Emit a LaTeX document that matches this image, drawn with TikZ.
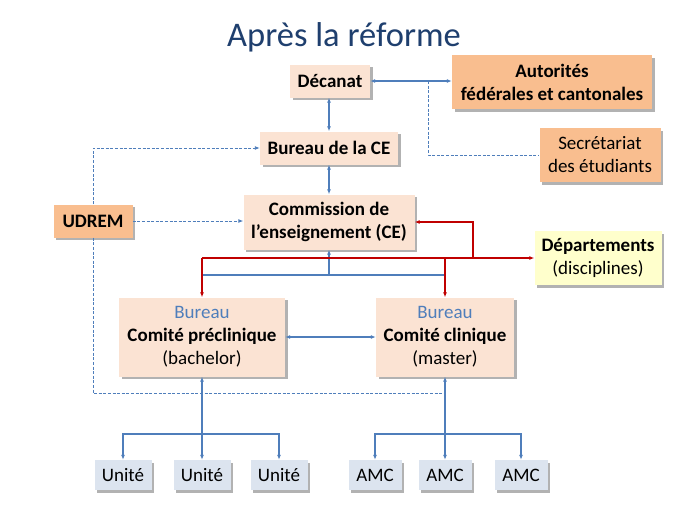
\documentclass[tikz,border=0pt]{standalone}
\usepackage{fontspec}
\setmainfont{Carlito}
\usetikzlibrary{arrows.meta,shadows}
\definecolor{peach}{HTML}{FBE3D3}
\definecolor{orangebox}{HTML}{F9BE8F}
\definecolor{yel}{HTML}{FFFFCC}
\definecolor{unitc}{HTML}{DCE4EF}
\definecolor{lineblue}{HTML}{4F7EBB}
\definecolor{darkred}{HTML}{C00000}
\definecolor{titlec}{HTML}{1F3F6E}
\tikzset{
  box/.style={draw=none, align=center, inner sep=0pt,
    drop shadow={shadow xshift=2.5pt, shadow yshift=-2.5pt, fill=black, opacity=0.3},
    font=\fontsize{19}{23}\selectfont},
  peachbox/.style={box, fill=peach},
  orbox/.style={box, fill=orangebox},
  yelbox/.style={box, fill=yel},
  unitbox/.style={box, fill=unitc},
  bl/.style={draw=lineblue, line width=1.2pt},
  dsh/.style={draw=lineblue, line width=0.9pt, dash pattern=on 3pt off 1.6pt},
  rd/.style={draw=darkred, line width=1.8pt},
  tip/.style={-{Latex[length=5pt,width=4pt]}},
  tips/.style={{Latex[length=5pt,width=4pt]}-{Latex[length=5pt,width=4pt]}}
}
\begin{document}
\begin{tikzpicture}[x=1pt,y=-1pt]
\useasboundingbox[fill=white] (0,0) rectangle (689,517);
\node[text=titlec, font=\fontsize{34.5}{40}\selectfont] (title) at (344,37) {Après la réforme};

\node[peachbox, minimum width=80pt, minimum height=33pt] (dec) at (330,81) {\textbf{Décanat}};
\node[orbox, minimum width=200pt, minimum height=54pt] (aut) at (552,82) {\textbf{Autorités}\\\textbf{fédérales et cantonales}};
\node[orbox, minimum width=121pt, minimum height=54pt] (sec) at (600,155) {Secrétariat\\des étudiants};
\node[peachbox, minimum width=138pt, minimum height=33pt] (bce) at (329,148) {\textbf{Bureau de la CE}};
\node[orbox, minimum width=79pt, minimum height=33pt] (udrem) at (93,221) {\textbf{UDREM}};
\node[peachbox, minimum width=171pt, minimum height=55pt] (ce) at (329,222) {\textbf{Commission de}\\\textbf{l’enseignement (CE)}};
\node[yelbox, minimum width=127pt, minimum height=54pt] (dep) at (598,258) {\textbf{Départements}\\(disciplines)};
\node[peachbox, minimum width=166pt, minimum height=79pt] (cp) at (202,337) {\textcolor{lineblue}{Bureau}\\\textbf{Comité préclinique}\\(bachelor)};
\node[peachbox, minimum width=138pt, minimum height=79pt] (cc) at (445,337) {\textcolor{lineblue}{Bureau}\\\textbf{Comité clinique}\\(master)};

\node[unitbox, minimum width=57pt, minimum height=30pt] (u1) at (123,475) {Unité};
\node[unitbox, minimum width=57pt, minimum height=30pt] (u2) at (202,475) {Unité};
\node[unitbox, minimum width=57pt, minimum height=30pt] (u3) at (279,475) {Unité};
\node[unitbox, minimum width=53pt, minimum height=30pt] (a1) at (375,475) {AMC};
\node[unitbox, minimum width=53pt, minimum height=30pt] (a2) at (445,475) {AMC};
\node[unitbox, minimum width=53pt, minimum height=30pt] (a3) at (521,475) {AMC};

% top connectors
\draw[bl, tips] (dec.east) -- (dec.east -| aut.west);
\coordinate (j1) at (428,81);
\draw[dsh] (j1) |- (sec.west);
\draw[bl, tips] (dec.south -| bce.north) -- (bce.north);
\draw[bl, tips] (bce.south) -- (ce.north);

% UDREM dashed
\draw[dsh, tip] (udrem.north) |- (bce.west);
\draw[dsh, tip] (udrem.east) -- (udrem.east -| ce.west);
\coordinate (db) at (445,393);
\draw[dsh] (udrem.south) |- (db);

% blue feedback to CE
\coordinate (bh) at (329,275);
\draw[bl] (cp.north |- bh) -- (cc.north |- bh);
\draw[bl, tip] (bh) -- (ce.south);

% red
\coordinate (rj) at (473,258);
\draw[rd, tip] (cp.north |- dep.west) -- (dep.west);
\draw[rd, tip] (cp.north |- dep.west) -- (cp.north);
\draw[rd, tip] (cc.north |- dep.west) -- (cc.north);
\draw[rd, tip] (rj) |- (ce.east);

% committees
\draw[bl, tips] (cp.east) -- (cc.west);

% bottom trees
\coordinate (ub) at (202,434);
\draw[bl, tips] (cp.south) -- (u2.north);
\draw[bl, tip] (ub) -| (u1.north);
\draw[bl, tip] (ub) -| (u3.north);
\coordinate (ab) at (445,434);
\draw[bl, tips] (cc.south) -- (a2.north);
\draw[bl, tip] (ab) -| (a1.north);
\draw[bl, tip] (ab) -| (a3.north);
\end{tikzpicture}
\end{document}
